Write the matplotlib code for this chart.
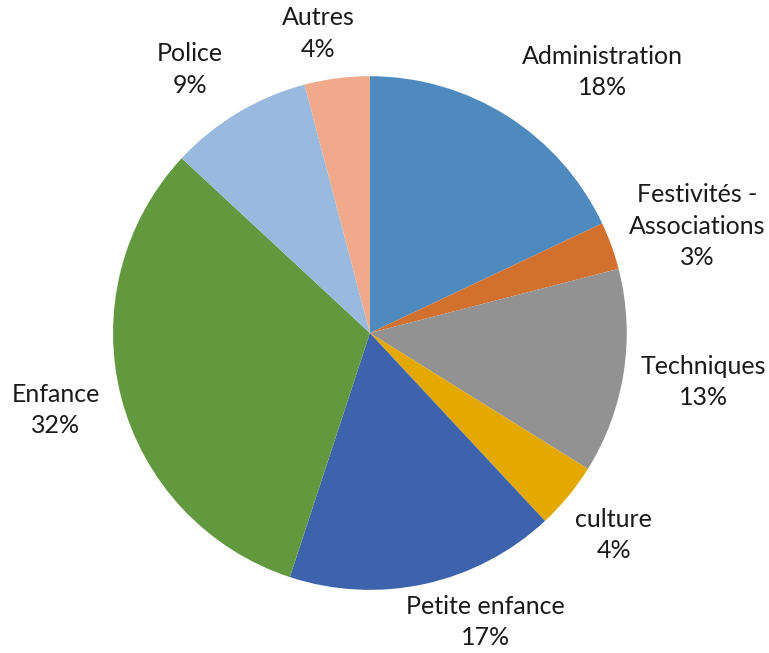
import numpy as np
import matplotlib
matplotlib.use('Agg')
import matplotlib.pyplot as plt

# slice data, clockwise from 12 o'clock
categories = ['Administration', 'Festivités -\nAssociations', 'Techniques', 'culture',
              'Petite enfance', 'Enfance', 'Police', 'Autres']
shares = [18.0, 3.0, 12.9, 4.2, 17.0, 31.9, 9.0, 4.1]
colors = ['#4F8ABF', '#D2702E', '#929292', '#E3A900',
          '#3C63AB', '#62993E', '#9AB9DF', '#F0A98B']

# label anchor points, in pie-radius units
label_xy = [(0.907, 1.016), (1.276, 0.416), (1.300, -0.190), (0.949, -0.786),
            (0.451, -1.125), (-1.222, -0.300), (-0.700, 1.027), (-0.202, 1.167)]

fig = plt.figure(figsize=(7.69, 6.53), dpi=100)
ax = fig.add_axes([0.147, 0.0965, 0.668, 0.787])
ax.pie(shares, colors=colors, startangle=90, counterclock=False, radius=1,
       wedgeprops={'linewidth': 0})
ax.set_xlim(-1, 1)
ax.set_ylim(-1, 1)
ax.set_aspect('equal')
ax.axis('off')

total = sum(shares)
for name, val, (x, y) in zip(categories, shares, label_xy):
    ax.text(x, y, f'{name}\n{round(val / total * 100):.0f}%', ha='center', va='center',
            fontsize=18, family=['Lato', 'DejaVu Sans'], color='#1a1a1a',
            linespacing=1.45, clip_on=False)

fig.savefig('out.png', dpi=100)
